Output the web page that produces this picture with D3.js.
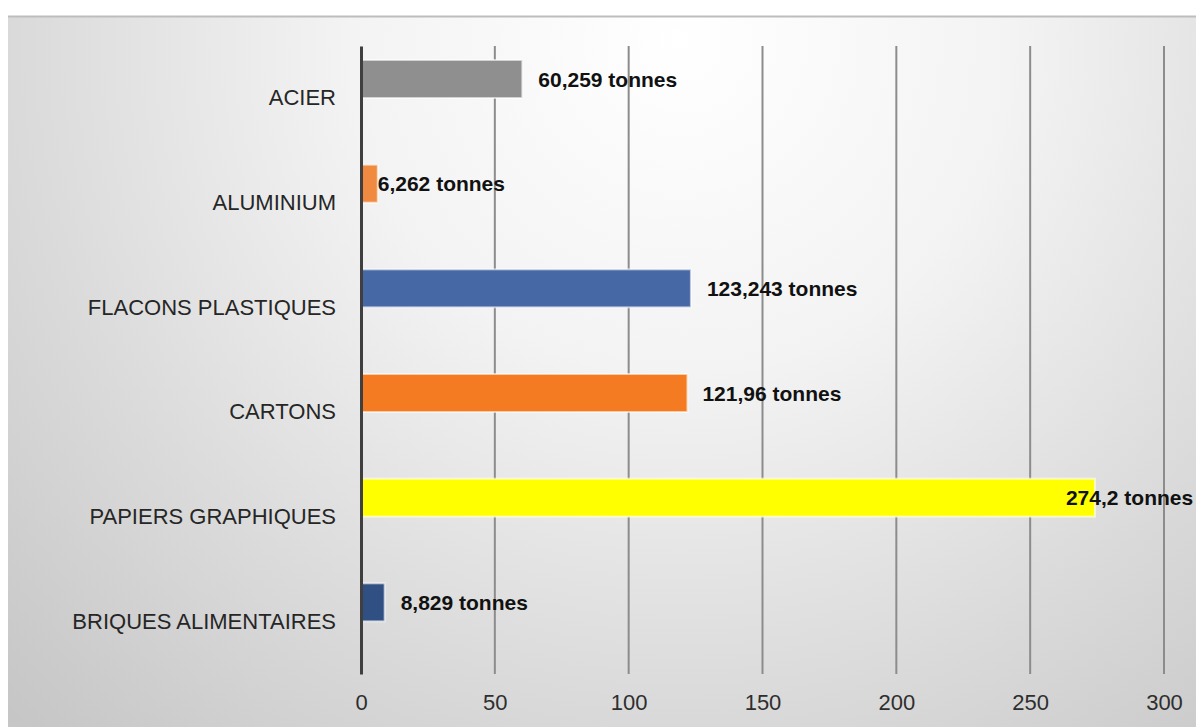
<!DOCTYPE html>
<html>
<head>
<meta charset="utf-8">
<script src="https://cdn.jsdelivr.net/npm/d3@7"></script>
<style>
  body { margin: 0; background: #fff; overflow: hidden; }
  text { font-family: "Liberation Sans", Arial, sans-serif; }
</style>
</head>
<body>
<div id="barchart"></div>
<script>
// data
var categories = ["ACIER", "ALUMINIUM", "FLACONS PLASTIQUES", "CARTONS", "PAPIERS GRAPHIQUES", "BRIQUES ALIMENTAIRES"];
var values = [60.259, 6.262, 123.243, 121.96, 274.2, 8.829];
var valueLabels = ["60,259 tonnes", "6,262 tonnes", "123,243 tonnes", "121,96 tonnes", "274,2 tonnes", "8,829 tonnes"];
var tickValues = [0, 50, 100, 150, 200, 250, 300];
var barColors = ["#8f8f8f", "#ef8a40", "#4668a5", "#f57b22", "#ffff00", "#304f82"];
// manual nudges of the value labels (the original had them moved by hand)
var labelDx = [16, 0, 16, 15, -29, 16];

var W = 1196, H = 727;
var svg = d3.select("#barchart")
  .append("svg")
    .attr("width", W)
    .attr("height", H);

// chart area background
var defs = svg.append("defs");
var grad = defs.append("radialGradient")
    .attr("id", "bg")
    .attr("gradientUnits", "userSpaceOnUse")
    .attr("cx", 680).attr("cy", 40).attr("r", 950);
grad.append("stop").attr("offset", "0%").attr("stop-color", "#ffffff");
grad.append("stop").attr("offset", "35%").attr("stop-color", "#f3f3f3");
grad.append("stop").attr("offset", "70%").attr("stop-color", "#dadada");
grad.append("stop").attr("offset", "100%").attr("stop-color", "#c6c6c6");

svg.append("rect")
    .attr("x", 8).attr("y", 16)
    .attr("width", W).attr("height", H)
    .attr("fill", "url(#bg)");
svg.append("line")
    .attr("x1", 8).attr("x2", W).attr("y1", 16.5).attr("y2", 16.5)
    .attr("stroke", "#bdbdbd").attr("stroke-width", 2);

var x = d3.scaleLinear()
  .domain([0, 300])
  .range([361, 1164]);

var y = d3.scaleBand()
  .domain(categories)
  .range([46, 674]);

// gridlines
svg.append("g")
  .selectAll("line")
  .data(tickValues.slice(1))
  .enter()
  .append("line")
    .attr("x1", function(d) { return x(d); })
    .attr("x2", function(d) { return x(d); })
    .attr("y1", 46)
    .attr("y2", 674)
    .attr("stroke", "#8c8c8c")
    .attr("stroke-width", 2);

// x axis labels
var xAxis = svg.append("g")
  .attr("transform", "translate(0,674)")
  .call(d3.axisBottom(x).tickValues(tickValues).tickSize(0).tickPadding(20));
xAxis.select(".domain").remove();
xAxis.selectAll("text")
  .attr("font-size", 22)
  .attr("fill", "#2e2e2e")
  .style("font-family", "'Liberation Sans', Arial, sans-serif");

// bars sit in the upper half of each band
var barTop = 14, barH = 38;
svg.append("g")
  .selectAll("rect")
  .data(values)
  .enter()
  .append("rect")
    .attr("x", x(0))
    .attr("y", function(d, i) { return y(categories[i]) + barTop; })
    .attr("width", function(d) { return x(d) - x(0); })
    .attr("height", barH)
    .attr("fill", function(d, i) { return barColors[i]; })
    .attr("stroke", "rgba(255,255,255,0.6)")
    .attr("stroke-width", 2);

// y axis
var yAxis = svg.append("g")
  .attr("transform", "translate(" + x(0) + ",0)")
  .call(d3.axisLeft(y).tickSize(0).tickPadding(25));
yAxis.select(".domain")
  .attr("stroke", "#3f3f3f")
  .attr("stroke-width", 3);
yAxis.selectAll("text")
  .attr("font-size", 22)
  .attr("fill", "#262626")
  .style("font-family", "'Liberation Sans', Arial, sans-serif");

// value labels
svg.append("g")
  .selectAll("text")
  .data(values)
  .enter()
  .append("text")
    .attr("x", function(d, i) { return x(d) + labelDx[i]; })
    .attr("y", function(d, i) { return y(categories[i]) + barTop + barH / 2; })
    .attr("dy", "0.36em")
    .attr("font-size", 21)
    .attr("font-weight", "bold")
    .attr("fill", "#111")
    .text(function(d, i) { return valueLabels[i]; });
</script>
</body>
</html>
